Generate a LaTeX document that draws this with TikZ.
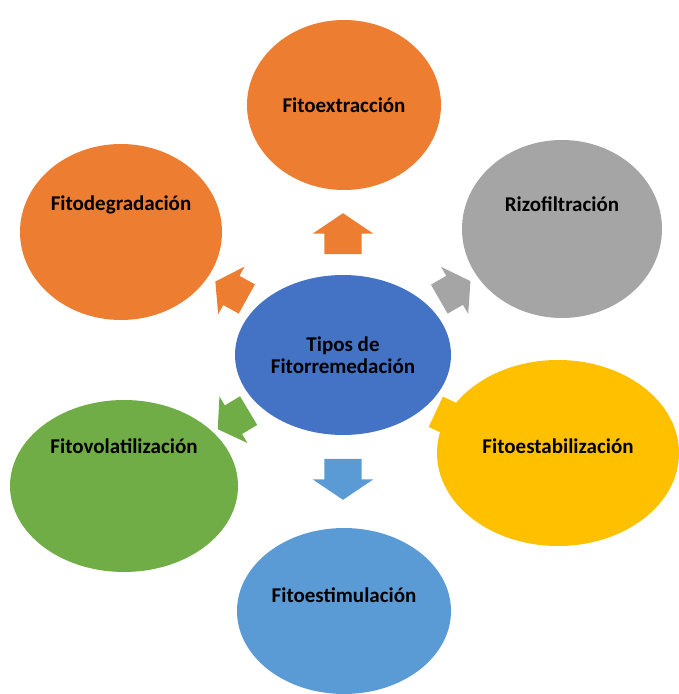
\documentclass[tikz,border=0pt]{standalone}
\usepackage{fontspec}
\setmainfont{Carlito}
\usetikzlibrary{shapes.geometric,shapes.arrows}
\definecolor{naranja}{HTML}{ED7D31}
\definecolor{gris}{HTML}{A5A5A5}
\definecolor{amarillo}{HTML}{FFC000}
\definecolor{azul}{HTML}{4472C4}
\definecolor{celeste}{HTML}{5B9BD5}
\definecolor{verde}{HTML}{70AD47}
\tikzset{
    tipo/.style={ellipse, draw=none, inner sep=0},
    flecha/.style={single arrow, draw=none, inner sep=0, minimum height=41pt,
        text height=18.5pt, text depth=18.5pt, text width=0pt,
        minimum width=60pt, single arrow head extend=11.5pt, single arrow tip angle=112},
    flechita/.style={flecha, minimum height=36pt, minimum width=54pt,
        text height=16.5pt, text depth=16.5pt, single arrow head extend=10.5pt},
  }

\begin{document}
\begin{tikzpicture}[x=1pt, y=1pt, font=\bfseries\fontsize{21}{22}\selectfont]
      \useasboundingbox (0,0) rectangle (679,694);
      \node (centro) [tipo, fill=azul, minimum width=216pt, minimum height=160pt, align=center]
            at (343,339) {Tipos de\\Fitorremedación};

      \node (extr) [tipo, fill=naranja, minimum width=194pt, minimum height=170pt] at (344,589) {Fitoextracción};
      \node (degr) [tipo, fill=naranja, minimum width=202pt, minimum height=176pt,
            label={[yshift=27pt]center:Fitodegradación}] at (121,462) {};
      \node (rizo) [tipo, fill=gris, minimum width=200pt, minimum height=178pt,
            label={[yshift=25pt]center:Rizofiltración}] at (562,465) {};
      \node (estab) [tipo, fill=amarillo, minimum width=242pt, minimum height=186pt,
            label={[yshift=7pt]center:Fitoestabilización}] at (558,241) {};
      \node (volat) [tipo, fill=verde, minimum width=228pt, minimum height=172pt,
            label={[yshift=40pt]center:Fitovolatilización}] at (124,208) {};
      \node (estim) [tipo, fill=celeste, minimum width=214pt, minimum height=166pt,
            label={[yshift=16pt]center:Fitoestimulación}] at (344,83) {};

      % flechas hacia afuera
      \node (f-extr) [flecha, fill=naranja, rotate=90] at (343,454) {};
      \node (f-estim) [flecha, fill=celeste, rotate=-90] at (343,221) {};
      \node (f-degr) [flechita, fill=naranja, rotate=151] at (236,401) {};
      \node (f-rizo) [flechita, fill=gris, rotate=30] at (450,401) {};
      \node (f-volat) [flechita, fill=verde, rotate=211] at (238,277) {};
      \node (f-estab) [flechita, fill=amarillo, rotate=-25] at (447,277) {};
  \end{tikzpicture}
\end{document}
